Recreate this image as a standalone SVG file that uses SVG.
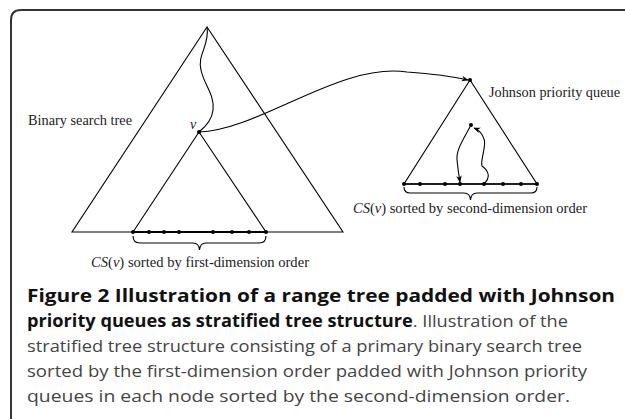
<svg xmlns="http://www.w3.org/2000/svg" width="625" height="419" viewBox="0 0 625 419">
<style>
.ln{fill:none;stroke:#000;stroke-width:1.1}
.dot{fill:#000}
.lbl{font-family:"Liberation Serif","DejaVu Serif",serif;font-size:14px;fill:#222}
.it{font-style:italic}
.cap{font-family:"Open Sans","Liberation Sans",sans-serif;font-size:17px;fill:#444}
.b{font-weight:bold;fill:#111}
</style>
<defs>
<marker id="ah" viewBox="0 0 10 10" refX="9" refY="5" markerWidth="7" markerHeight="7" orient="auto" markerUnits="userSpaceOnUse">
<path d="M0,1 L10,5 L0,9 L3,5 Z" fill="#000"/>
</marker>
</defs>
<rect width="625" height="419" fill="#fff"/>
<path d="M11,419 V20 Q11,10 21,10 H625" fill="none" stroke="#333" stroke-width="2"/>

<g id="bst">
<path class="ln" d="M207,27 L72,232 L343,232 Z"/>
<text class="lbl" x="28" y="125" textLength="104" lengthAdjust="spacingAndGlyphs">Binary search tree</text>
</g>
<g id="subtree">
<path class="ln" d="M199,132 L133,232 M199,132 L266,232"/>
<line x1="133" y1="232" x2="266" y2="232" stroke="#000" stroke-width="2"/>
<circle class="dot" cx="199" cy="132" r="2"/>
<text class="lbl it" x="190" y="129">v</text>
<g class="dot">
<circle cx="133" cy="232" r="2"/><circle cx="149" cy="232" r="2"/><circle cx="164" cy="232" r="2"/><circle cx="179" cy="232" r="2"/>
<circle cx="213" cy="232" r="2"/><circle cx="232" cy="232" r="2"/><circle cx="249" cy="232" r="2"/><circle cx="266" cy="232" r="2"/>
</g>
<path class="ln" d="M133,236 Q133,243 140,243 H193 Q199,243 199.5,250 Q200,243 206,243 H259 Q266,243 266,236"/>
<text class="lbl" x="91" y="267" textLength="218" lengthAdjust="spacingAndGlyphs"><tspan class="it">CS</tspan>(<tspan class="it">v</tspan>) sorted by first-dimension order</text>
</g>
<g id="jpq">
<path class="ln" d="M470,80 L404,184 L537,184 Z"/>
<line x1="404" y1="184" x2="537" y2="184" stroke="#000" stroke-width="1.6"/>
<text class="lbl" x="489" y="97" textLength="131" lengthAdjust="spacingAndGlyphs">Johnson priority queue</text>
<g class="dot">
<circle cx="470" cy="80" r="2"/><circle cx="471" cy="125" r="2"/>
<circle cx="404" cy="184" r="2"/><circle cx="420" cy="184" r="2"/><circle cx="445" cy="184" r="2"/><circle cx="460" cy="184" r="2"/>
<circle cx="484" cy="184" r="2"/><circle cx="503" cy="184" r="2"/><circle cx="521" cy="184" r="2"/><circle cx="537" cy="184" r="2"/>
</g>
<path class="ln" d="M404,187 Q404,193 410,193 H464 Q470,193 470.5,200 Q471,193 477,193 H531 Q537,193 537,187"/>
<text class="lbl" x="353" y="213" textLength="234" lengthAdjust="spacingAndGlyphs"><tspan class="it">CS</tspan>(<tspan class="it">v</tspan>) sorted by second-dimension order</text>
</g>
<g id="connectors">
<path class="ln" d="M207,27 C210,45 197,55 201,70 C204,85 215,95 213,110 C212,120 204,128 199,132"/>
<path class="ln" d="M199,132 C260,130 340,62 407,72 C435,74 455,77 468,80" marker-end="url(#ah)"/>
<path class="ln" d="M471,125 C463,140 456,150 457,160 C458,170 459,176 460,182" marker-end="url(#ah)"/>
<path class="ln" d="M484,184 C490,178 490,172 482,166 C480,160 487,145 484,139 C482,133 479,130 474,128" marker-end="url(#ah)"/>
</g>
<g id="caption">
<text class="cap b" x="27" y="302" textLength="588" lengthAdjust="spacingAndGlyphs">Figure 2 Illustration of a range tree padded with Johnson</text>
<text class="cap" x="27" y="327" textLength="541" lengthAdjust="spacingAndGlyphs"><tspan class="b">priority queues as stratified tree structure</tspan>. Illustration of the</text>
<text class="cap" x="27" y="352" textLength="555" lengthAdjust="spacingAndGlyphs">stratified tree structure consisting of a primary binary search tree</text>
<text class="cap" x="27" y="377" textLength="560" lengthAdjust="spacingAndGlyphs">sorted by the first-dimension order padded with Johnson priority</text>
<text class="cap" x="27" y="402" textLength="543" lengthAdjust="spacingAndGlyphs">queues in each node sorted by the second-dimension order.</text>
</g>
</svg>
